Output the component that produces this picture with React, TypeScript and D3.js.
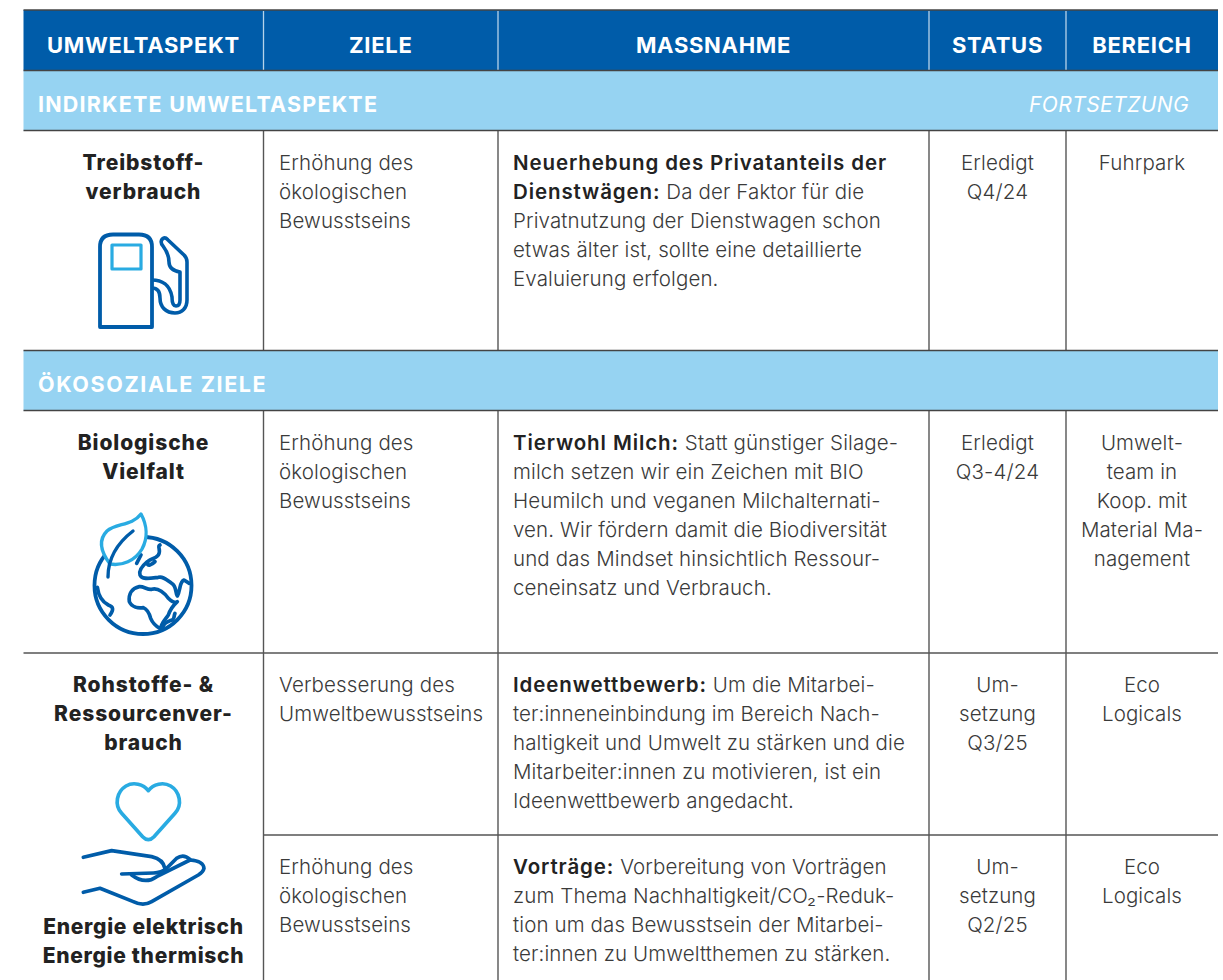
import React from "react";
import * as d3 from "d3";

const headers = ["UMWELTASPEKT", "ZIELE", "MASSNAHME", "STATUS", "BEREICH"];
const bandOne = "INDIRKETE UMWELTASPEKTE";
const bandOneRight = "FORTSETZUNG";
const bandTwo = "ÖKOSOZIALE ZIELE";

const aspectLines = [
  ["Treibstoff-", "verbrauch"],
  ["Biologische", "Vielfalt"],
  ["Rohstoffe- &", "Ressourcenver-", "brauch"],
];
const aspectFooter = ["Energie elektrisch", "Energie thermisch"];

const zielLines = [
  ["Erhöhung des", "ökologischen", "Bewusstseins"],
  ["Erhöhung des", "ökologischen", "Bewusstseins"],
  ["Verbesserung des", "Umweltbewusstseins"],
  ["Erhöhung des", "ökologischen", "Bewusstseins"],
];
// [bold part, regular part] per line
const massnahmeLines: [string, string][][] = [
  [
    ["Neuerhebung des Privatanteils der", ""],
    ["Dienstwägen:", " Da der Faktor für die"],
    ["", "Privatnutzung der Dienstwagen schon"],
    ["", "etwas älter ist, sollte eine detaillierte"],
    ["", "Evaluierung erfolgen."],
  ],
  [
    ["Tierwohl Milch:", " Statt günstiger Silage-"],
    ["", "milch setzen wir ein Zeichen mit BIO"],
    ["", "Heumilch und veganen Milchalternati-"],
    ["", "ven. Wir fördern damit die Biodiversität"],
    ["", "und das Mindset hinsichtlich Ressour-"],
    ["", "ceneinsatz und Verbrauch."],
  ],
  [
    ["Ideenwettbewerb:", " Um die Mitarbei-"],
    ["", "ter:inneneinbindung im Bereich Nach-"],
    ["", "haltigkeit und Umwelt zu stärken und die"],
    ["", "Mitarbeiter:innen zu motivieren, ist ein"],
    ["", "Ideenwettbewerb angedacht."],
  ],
  [
    ["Vorträge:", " Vorbereitung von Vorträgen"],
    ["", "zum Thema Nachhaltigkeit/CO₂-Reduk-"],
    ["", "tion um das Bewusstsein der Mitarbei-"],
    ["", "ter:innen zu Umweltthemen zu stärken."],
  ],
];
const statusLines = [
  ["Erledigt", "Q4/24"],
  ["Erledigt", "Q3-4/24"],
  ["Um-", "setzung", "Q3/25"],
  ["Um-", "setzung", "Q2/25"],
];
const bereichLines = [
  ["Fuhrpark"],
  ["Umwelt-", "team in", "Koop. mit", "Material Ma-", "nagement"],
  ["Eco", "Logicals"],
  ["Eco", "Logicals"],
];

// layout
const colEdges = [23.5, 263.5, 498, 929, 1066, 1218];
const x = d3.scaleLinear().domain([0, 1, 2, 3, 4, 5]).range(colEdges);
const yEdges = [10, 70.5, 130.5, 350.5, 410.5, 653, 835, 980];
const y = d3.scaleLinear().domain(d3.range(yEdges.length)).range(yEdges);
const rowTop = [y(2), y(4), y(5), y(6)];

const BLUE = "#005ca9";
const SKY = "#29abe2";
const BAND = "#96d3f2";
const TEXT = "#3a3a3a";
const GRID = "#555";
const FONT = "Inter, sans-serif";
const LH = 29;
const FS = 20.5;
const BASE = 39;

const cx = (i: number) => (x(i) + x(i + 1)) / 2;

function Lines({ lines, px, top, anchor, weight = 300, fill = TEXT, ls = 0.12, size = FS }: any) {
  return (
    <>
      {lines.map((l: string, i: number) => (
        <text key={i} x={px} y={top + BASE + i * LH} textAnchor={anchor} fontSize={size} fontWeight={weight} fill={fill} letterSpacing={ls}>
          {l}
        </text>
      ))}
    </>
  );
}

const pump = "M100,327 V247 Q100,234.5 113,234.5 H139 Q152,234.5 152,247 V327 Z";
const hose =
  "M152,280 C162,280 170,285 172,297 C172,304 174,306 176,306 C179,306 180,304 180,300 V272 C174,271 169,268 169,262 C169,255 166,250 163,246 C160,243 161,239 164,238 C166,237.5 167,239 168,240 L184,255 Q187,258 187,262 V300 C187,308 182,313 175,313 C166,313 160,307 160,298 C160,291 157,288 152,288";
const leaf =
  "M141,514 C147,525 148,538 142,549 C135,561 122,566 110,564 C101,552 98,540 107,531 C116,523 132,526 141,514 Z";
const stem = "M133,531 C120,541 108,556 108,577";
const continents = [
  "M238,260 C215,265 205,282 208,305 C215,322 235,325 250,323 C262,328 268,340 272,355 C278,370 290,380 302,387 C303,370 315,360 325,345 C330,330 338,318 352,305 C345,310 335,305 325,295 C315,280 295,262 275,268 C262,270 250,258 238,260",
  "M300,135 C290,140 305,150 295,165 C285,180 262,175 262,190 C262,200 275,195 285,185 M262,185 C250,195 235,210 240,225 C245,240 270,235 295,232 C310,228 320,240 335,250 C350,258 345,275 352,288 C362,270 358,245 372,240 L388,250",
  "M243,165 L230,190",
  "M112,262 C115,285 125,305 145,315 C160,320 162,328 150,345",
  "M345,340 C340,352 345,360 330,362 C320,365 312,370 308,382",
];
const heart =
  "M385,62 C370,42 340,35 318,48 C290,65 282,105 305,130 L368,200 Q385,218 402,200 L465,130 C488,105 480,65 452,48 C430,35 400,42 385,62 Z";
const hand = [
  "M190,262 L275,242 L395,260 Q430,268 435,296",
  "M305,312 L400,309 Q425,308 440,295 L470,265 Q490,250 510,268",
  "M335,315 Q375,345 410,320 L510,270 Q550,272 552,295 Q550,305 535,315 L395,395 Q370,410 340,395 L240,355 L190,367",
];

export default function App() {
  return (
    <svg width={1223} height={980} style={{ position: "absolute", left: 0, top: 0, fontFamily: FONT, background: "#fff" }}>
      <rect x={x(0)} y={y(0)} width={x(5) - x(0)} height={y(1) - y(0)} fill={BLUE} />
      <rect x={x(0)} y={y(1)} width={x(5) - x(0)} height={y(2) - y(1)} fill={BAND} />
      <rect x={x(0)} y={y(3)} width={x(5) - x(0)} height={y(4) - y(3)} fill={BAND} />

      {headers.map((h, i) => (
        <text key={h} x={cx(i)} y={52.5} textAnchor="middle" fontSize={22} fontWeight={700} fill="#fff" letterSpacing={0.7}>
          {h}
        </text>
      ))}
      {[1, 2, 3, 4].map((i) => (
        <line key={i} x1={x(i)} x2={x(i)} y1={y(0) + 1} y2={y(1)} stroke="#b5d3ea" strokeWidth={1.3} />
      ))}
      <text x={38} y={112} fontSize={21.5} fontWeight={700} fill="#fff" letterSpacing={1.2}>{bandOne}</text>
      <text x={1189} y={112} textAnchor="end" fontSize={21} fontWeight={400} fontStyle="italic" fill="#fff" letterSpacing={0.4}>{bandOneRight}</text>
      <text x={38} y={392} fontSize={21.5} fontWeight={700} fill="#fff" letterSpacing={1.6}>{bandTwo}</text>

      {[1, 2, 3, 4].map((i) => (
        <g key={i}>
          <line x1={x(i)} x2={x(i)} y1={y(2)} y2={y(3)} stroke={GRID} strokeWidth={1.4} />
          <line x1={x(i)} x2={x(i)} y1={y(4)} y2={y(7)} stroke={GRID} strokeWidth={1.4} />
        </g>
      ))}
      {[0, 1, 2, 3, 4].map((i) => (
        <line key={i} x1={x(0)} x2={x(5)} y1={y(i)} y2={y(i)} stroke="#444" strokeWidth={1.5} />
      ))}
      <line x1={x(0)} x2={x(5)} y1={y(5)} y2={y(5)} stroke={GRID} strokeWidth={1.4} />
      <line x1={x(1)} x2={x(5)} y1={y(6)} y2={y(6)} stroke={GRID} strokeWidth={1.4} />

      {aspectLines.map((ls, r) => (
        <Lines key={r} lines={ls} px={cx(0)} top={[y(2), y(4), y(5)][r]} anchor="middle" weight={800} fill="#222" ls={0.9} size={21} />
      ))}
      {aspectFooter.map((l, i) => (
        <text key={l} x={cx(0)} y={934 + i * LH} textAnchor="middle" fontSize={21} fontWeight={800} fill="#222" letterSpacing={0.7}>{l}</text>
      ))}

      {rowTop.map((top, r) => (
        <g key={r}>
          <Lines lines={zielLines[r]} px={x(1) + 15.5} top={top} anchor="start" />
          {massnahmeLines[r].map(([b, t], i) => (
            <text key={i} x={x(2) + 15} y={top + BASE + i * LH} fontSize={FS} fontWeight={300} fill={TEXT} letterSpacing={0.12}>
              {b && <tspan fontWeight={600} fill="#222" letterSpacing={0.9}>{b}</tspan>}
              {t}
            </text>
          ))}
          <Lines lines={statusLines[r]} px={cx(3)} top={top} anchor="middle" />
          <Lines lines={bereichLines[r]} px={cx(4)} top={top} anchor="middle" />
        </g>
      ))}

      {/* fuel pump */}
      <g fill="none" strokeLinejoin="round">
        <path d={pump} stroke={BLUE} strokeWidth={3.8} />
        <path d={hose} stroke={BLUE} strokeWidth={3.6} />
        <rect x={112} y={245} width={29} height={24} stroke={SKY} strokeWidth={3.2} />
      </g>

      {/* globe and leaf */}
      <circle cx={143} cy={585.5} r={48.5} fill="none" stroke={BLUE} strokeWidth={3.8} />
      <g transform="translate(60,500) scale(0.3333)" fill="none" stroke={BLUE} strokeWidth={11} strokeLinecap="round" strokeLinejoin="round">
        {continents.map((d) => <path key={d} d={d} />)}
      </g>
      <path d={leaf} fill="#fff" stroke={SKY} strokeWidth={3.4} strokeLinejoin="round" />
      <path d={stem} fill="none" stroke={BLUE} strokeWidth={3.4} strokeLinecap="round" />

      {/* hand and heart */}
      <g transform="translate(20,770) scale(0.3333)" fill="none" strokeLinecap="round" strokeLinejoin="round">
        <path d={heart} stroke={SKY} strokeWidth={11} />
        {hand.map((d) => <path key={d} d={d} stroke={BLUE} strokeWidth={11} />)}
      </g>
    </svg>
  );
}
